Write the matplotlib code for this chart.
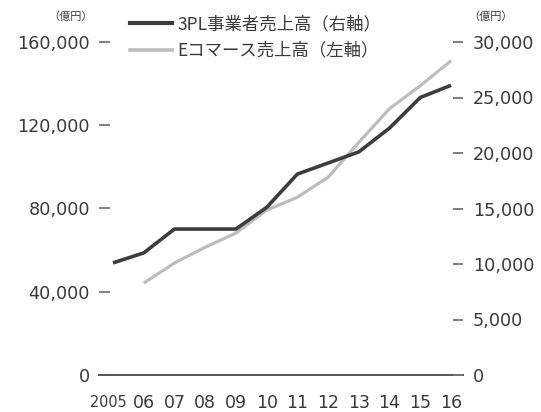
import matplotlib
matplotlib.use("Agg")
import matplotlib.pyplot as plt
from matplotlib.lines import Line2D
import matplotlib.transforms as mtransforms

years = [2005, 2006, 2007, 2008, 2009, 2010, 2011, 2012, 2013, 2014, 2015, 2016]
year_labels = ["2005", "06", "07", "08", "09", "10", "11", "12", "13", "14", "15", "16"]

# 3PL事業者売上高 (right axis, 億円)
tpl_sales = [10100, 11000, 13150, 13150, 13150, 15100, 18100, 19100, 20100, 22250, 25000, 26100]
# Eコマース売上高 (left axis, 億円), from 2006
ec_years = [2006, 2007, 2008, 2009, 2010, 2011, 2012, 2013, 2014, 2015, 2016]
ec_sales = [44200, 53800, 61400, 68200, 79200, 85400, 95000, 111800, 128000, 139000, 151000]

left_ticks = [0, 40000, 80000, 120000, 160000]
right_ticks = [0, 5000, 10000, 15000, 20000, 25000, 30000]

label_tpl = "3PL事業者売上高（右軸）"
label_ec = "Eコマース売上高（左軸）"
unit = "（億円）"

plt.rcParams['font.family'] = ['DejaVu Sans', 'Noto Sans CJK JP']
TXT = '#3a3a3a'
DARK = '#3d3d3d'
LIGHT = '#bdbdbd'

W, H = 541, 412
fig = plt.figure(figsize=(W / 100, H / 100), dpi=100)
ax = fig.add_axes([99 / W, 37 / H, 364 / W, 333 / H])
ax.set_xlim(2004.544, 2016.39)
ax.set_ylim(0, 160000)
ax2 = ax.twinx()
ax2.set_ylim(0, 30000)

for a in (ax, ax2):
    for s in a.spines.values():
        s.set_visible(False)
    a.patch.set_visible(False)

ax.plot(ec_years, ec_sales, color=LIGHT, lw=2.3, solid_capstyle='butt', zorder=3)
ax2.plot(years, tpl_sales, color=DARK, lw=2.6, solid_capstyle='butt', zorder=4)

ax.axhline(0, color='#555555', lw=1.4, clip_on=False, zorder=2)

ax.set_yticks(left_ticks, [f"{v:,}" for v in left_ticks])
ax.tick_params(axis='y', direction='in', length=8, width=1.3, color='#777777',
               pad=6.5, labelsize=12.7, labelcolor=TXT)
ax2.set_yticks(right_ticks, [f"{v:,}" for v in right_ticks])
ax2.tick_params(axis='y', direction='in', length=7, width=1.3, color='#777777',
                pad=7.2, labelsize=12.7, labelcolor=TXT)

ax.set_xticks(years, year_labels)
ax.tick_params(axis='x', length=0, pad=14, labelsize=12.5, labelcolor=TXT)

# the first (four-digit) year label is set condensed in the reference
first = ax.get_xticklabels()[0]
first.set_fontstretch('condensed')
fig.canvas.draw()
renderer = fig.canvas.get_renderer()
size = 12.5
while first.get_window_extent(renderer).width > 37 and size > 9:
    size -= 0.25
    first.set_fontsize(size)
drop_px = 0.73 * (12.5 - size) * 100 / 72
first.set_transform(first.get_transform() +
                    mtransforms.ScaledTranslation(-5 / 100, -drop_px / 100,
                                                  fig.dpi_scale_trans))

fig.text(71 / W, 1 - 17 / H, unit, ha='center', va='center', fontsize=8,
         color=TXT, family=['Noto Sans CJK JP'])
fig.text(491 / W, 1 - 17 / H, unit, ha='center', va='center', fontsize=8,
         color=TXT, family=['Noto Sans CJK JP'])

handles = [Line2D([], [], color=DARK, lw=3.0), Line2D([], [], color=LIGHT, lw=2.6)]
fig.legend(handles, [label_tpl, label_ec], loc='upper left',
           bbox_to_anchor=(130 / W, 1 - 15 / H), frameon=False,
           prop={'family': ['Noto Sans CJK JP'], 'size': 12.5},
           handlelength=2.4, handletextpad=0.35, labelspacing=0.5,
           borderaxespad=0, borderpad=0, labelcolor=TXT)

fig.savefig("out.png", dpi=100)
